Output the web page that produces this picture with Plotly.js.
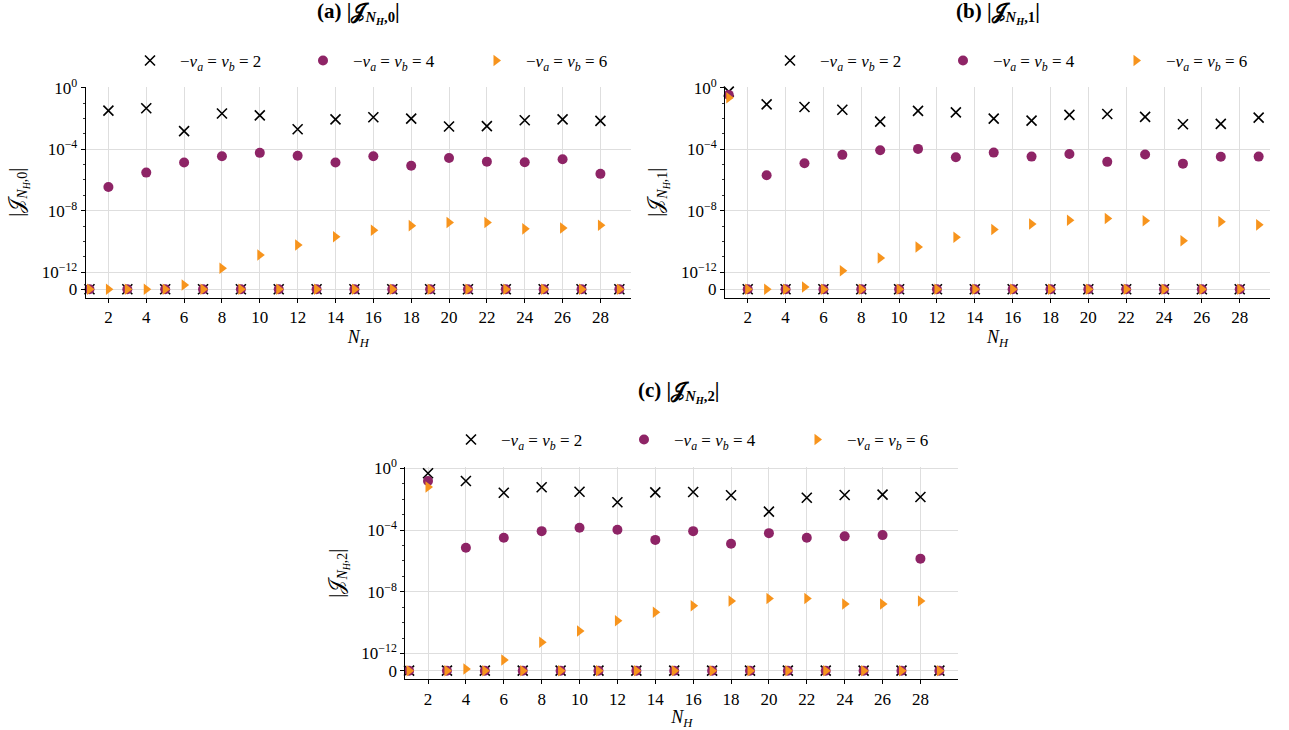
<!DOCTYPE html>
<html>
<head>
<meta charset="utf-8">
<script src="https://cdn.plot.ly/plotly-3.0.1.min.js"></script>
<style>html,body{margin:0;padding:0;background:#fff;}#chart{width:1289px;height:730px;}</style>
</head>
<body>
<div id="chart"></div>
<script>
// ---------- data ----------
const nH = [1,2,3,4,5,6,7,8,9,10,11,12,13,14,15,16,17,18,19,20,21,22,23,24,25,26,27,28,29];
const seriesNames = ['−<i>v</i><sub><i>a</i></sub> = <i>v</i><sub><i>b</i></sub> = 2', '−<i>v</i><sub><i>a</i></sub> = <i>v</i><sub><i>b</i></sub> = 4', '−<i>v</i><sub><i>a</i></sub> = <i>v</i><sub><i>b</i></sub> = 6'];

// (a) |J_{N_H,0}|
const a_v2 = [0,3.2e-2,0,4.6e-2,0,1.5e-3,0,2.1e-2,0,1.6e-2,0,2.0e-3,0,8.7e-3,0,1.2e-2,0,9.8e-3,0,3.0e-3,0,3.2e-3,0,7.6e-3,0,8.7e-3,0,6.9e-3,0];
const a_v4 = [0,3.5e-7,0,3.0e-6,0,1.35e-5,0,3.5e-5,0,5.8e-5,0,3.8e-5,0,1.35e-5,0,3.5e-5,0,8.5e-6,0,2.7e-5,0,1.55e-5,0,1.4e-5,0,2.2e-5,0,2.5e-6,0];
const a_v6 = [0,0,0,0,0,2.5e-13,0,1.8e-12,0,1.3e-11,0,5.8e-11,0,2.0e-10,0,5.4e-10,0,1.07e-9,0,1.7e-9,0,1.7e-9,0,6.6e-10,0,7.6e-10,0,1.15e-9,0];

// (b) |J_{N_H,1}|
const b_v2 = [0.55,0,8.3e-2,0,5.6e-2,0,3.7e-2,0,6.2e-3,0,3.1e-2,0,2.5e-2,0,9.8e-3,0,7.2e-3,0,1.7e-2,0,1.95e-2,0,1.26e-2,0,4.2e-3,0,4.4e-3,0,1.12e-2];
const b_v4 = [0.34,0,2.0e-6,0,1.23e-5,0,4.3e-5,0,8.5e-5,0,1.05e-4,0,3.0e-5,0,6.0e-5,0,3.3e-5,0,4.9e-5,0,1.5e-5,0,4.5e-5,0,1.15e-5,0,3.2e-5,0,3.3e-5];
const b_v6 = [0.22,0,0,0,1.35e-13,0,1.26e-12,0,8.3e-12,0,4.3e-11,0,1.9e-10,0,6.0e-10,0,1.38e-9,0,2.4e-9,0,3.1e-9,0,2.2e-9,0,1.1e-10,0,1.95e-9,0,1.2e-9];

// (c) |J_{N_H,2}|
const c_v2 = [0,0.48,0,0.15,0,2.6e-2,0,5.9e-2,0,3.0e-2,0,6.3e-3,0,2.75e-2,0,2.9e-2,0,1.8e-2,0,1.55e-3,0,1.23e-2,0,1.86e-2,0,1.95e-2,0,1.38e-2,0];
const c_v4 = [0,0.15,0,7.1e-6,0,3.2e-5,0,8.5e-5,0,1.4e-4,0,1.05e-4,0,2.3e-5,0,8.5e-5,0,1.3e-5,0,6.3e-5,0,3.2e-5,0,3.9e-5,0,4.7e-5,0,1.4e-6,0];
const c_v6 = [0,6.2e-2,0,1.0e-13,0,6.2e-13,0,5.4e-12,0,2.9e-11,0,1.35e-10,0,4.8e-10,0,1.23e-9,0,2.5e-9,0,3.7e-9,0,3.7e-9,0,1.6e-9,0,1.6e-9,0,2.5e-9,0];

const panelTitles = [
  '<b>(a) |𝒥<sub><i>N<sub>H</sub></i>,0</sub>|</b>',
  '<b>(b) |𝒥<sub><i>N<sub>H</sub></i>,1</sub>|</b>',
  '<b>(c) |𝒥<sub><i>N<sub>H</sub></i>,2</sub>|</b>'
];
const yTitles = ['|𝒥<sub><i>N<sub>H</sub></i>,0</sub>|', '|𝒥<sub><i>N<sub>H</sub></i>,1</sub>|', '|𝒥<sub><i>N<sub>H</sub></i>,2</sub>|'];
const yTickValues = [0, 1e-12, 1e-8, 1e-4, 1];
const yTickText = ['0', '10<sup>−12</sup>', '10<sup>−8</sup>', '10<sup>−4</sup>', '10<sup>0</sup>'];
const yMinorValues = [1e-11,1e-10,1e-9,1e-7,1e-6,1e-5,1e-3,1e-2,1e-1];
const xTickValues = [2,4,6,8,10,12,14,16,18,20,22,24,26,28];

// ---------- symlog (linthresh 1e-12, linscale 1) ----------
const LIN = 1e-12, LINSCALE = 1/(1-0.1);
function symlog(v){ return v <= LIN ? v/LIN*LINSCALE : LINSCALE + Math.log10(v/LIN); }

const FONT = '"Liberation Serif", "DejaVu Serif", serif';
const colors = ['#000000', '#8e2466', '#f7941d'];

const panels = [
  {data:[a_v2,a_v4,a_v6], sfx:'', leg:'legend'},
  {data:[b_v2,b_v4,b_v6], sfx:'2', leg:'legend2'},
  {data:[c_v2,c_v4,c_v6], sfx:'3', leg:'legend3'}
];

const traces = [];
panels.forEach((p) => {
  p.data.forEach((arr, k) => {
    const mk = k===0 ? {symbol:'x-thin', size:10, color:colors[0], line:{width:1.6, color:colors[0]}}
             : k===1 ? {symbol:'circle', size:10, color:colors[1], line:{width:0}}
             : {symbol:'triangle-right', size:10, color:colors[2], line:{width:0}};
    traces.push({
      type:'scatter', mode:'markers', x:nH, y:arr.map(symlog),
      xaxis:'x'+p.sfx, yaxis:'y'+p.sfx, name:seriesNames[k], legend:p.leg,
      marker:mk, cliponaxis:false, hoverinfo:'skip'
    });
  });
});

function xAxis(domain, range, anchor){
  return {domain:domain, range:range, anchor:anchor, tickmode:'array', tickvals:xTickValues,
    ticks:'outside', ticklen:4, tickwidth:1, tickcolor:'#000', showline:true, linecolor:'#000', linewidth:1,
    showgrid:true, gridcolor:'#dedede', gridwidth:1, zeroline:false,
    tickfont:{family:FONT, size:17, color:'#000'},
    title:{text:'<i>N</i><sub><i>H</i></sub>', font:{family:FONT, size:18, color:'#000'}, standoff:3}};
}
function yAxis(domain, range, anchor, title){
  return {domain:domain, range:range, anchor:anchor, tickmode:'array',
    tickvals:yTickValues.map(symlog), ticktext:yTickText,
    ticks:'outside', ticklen:4, tickwidth:1, tickcolor:'#000', showline:true, linecolor:'#000', linewidth:1,
    showgrid:true, gridcolor:'#dedede', gridwidth:1, zeroline:false,
    minor:{tickmode:'array', tickvals:yMinorValues.map(symlog), ticks:'outside', ticklen:2, tickwidth:0.8, tickcolor:'#000', showgrid:false},
    tickfont:{family:FONT, size:17, color:'#000'},
    title:{text:title, font:{family:FONT, size:20, color:'#000'}, standoff:12}};
}

function legendAt(xpx, ypx){
  return {orientation:'h', x:xpx/1289, y:1-ypx/730, xanchor:'left', yanchor:'middle',
    font:{family:FONT, size:17, color:'#000'}, bgcolor:'rgba(0,0,0,0)', borderwidth:0,
    itemwidth:50, entrywidth:108, entrywidthmode:'pixels', itemclick:false, itemdoubleclick:false};
}

const layout = {
  width:1289, height:730, margin:{l:0,r:0,t:0,b:0},
  paper_bgcolor:'#fff', plot_bgcolor:'#fff', showlegend:true,
  font:{family:FONT, color:'#000'},
  xaxis: xAxis([85.7/1289, 630.7/1289], [0.8, 29.6], 'y'),
  yaxis: yAxis([1-297.7/730, 1-86.7/730], [-0.546, 13.176], 'x', yTitles[0]),
  xaxis2: xAxis([725/1289, 1270/1289], [0.8, 29.6], 'y2'),
  yaxis2: yAxis([1-297.7/730, 1-86.7/730], [-0.546, 13.176], 'x2', yTitles[1]),
  xaxis3: xAxis([405.3/1289, 958.3/1289], [0.8, 30.0], 'y3'),
  yaxis3: yAxis([1-679.3/730, 1-467/730], [-0.558, 13.195], 'x3', yTitles[2]),
  legend: legendAt(120, 61),
  legend2: legendAt(760, 61),
  legend3: legendAt(441, 440),
  annotations: [
    {text:panelTitles[0], x:358/1289, y:1-13/730, xref:'paper', yref:'paper', showarrow:false, xanchor:'center', yanchor:'middle', font:{family:FONT, size:21, color:'#000'}},
    {text:panelTitles[1], x:998/1289, y:1-13/730, xref:'paper', yref:'paper', showarrow:false, xanchor:'center', yanchor:'middle', font:{family:FONT, size:21, color:'#000'}},
    {text:panelTitles[2], x:678/1289, y:1-392/730, xref:'paper', yref:'paper', showarrow:false, xanchor:'center', yanchor:'middle', font:{family:FONT, size:21, color:'#000'}}
  ]
};

Plotly.newPlot('chart', traces, layout, {staticPlot:true, displayModeBar:false});
</script>
</body>
</html>
